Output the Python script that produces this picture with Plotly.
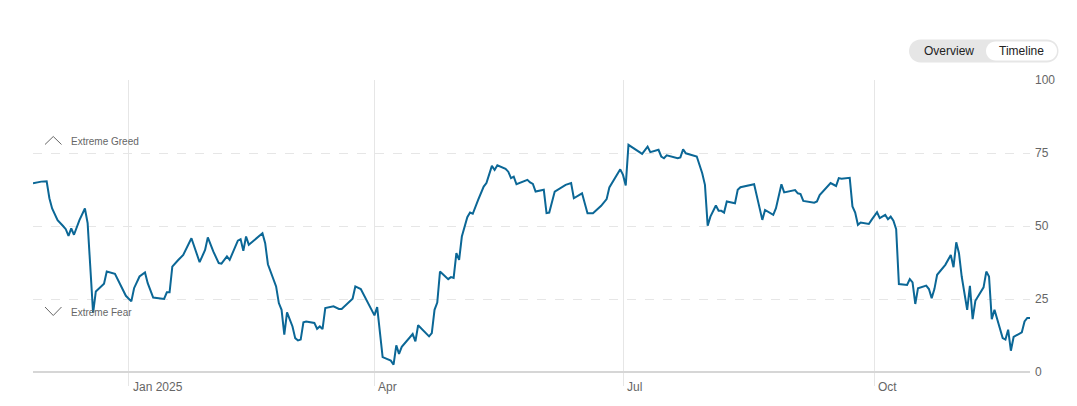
import plotly.graph_objects as go

#%% data
dates = [
    '2024-11-27', '2024-11-30', '2024-12-02', '2024-12-03', '2024-12-04', '2024-12-06',
    '2024-12-08', '2024-12-09', '2024-12-10', '2024-12-11', '2024-12-12', '2024-12-14',
    '2024-12-16', '2024-12-17', '2024-12-19', '2024-12-20', '2024-12-23', '2024-12-24',
    '2024-12-27', '2024-12-29', '2024-12-31', '2025-01-02', '2025-01-03', '2025-01-05',
    '2025-01-07', '2025-01-08', '2025-01-10', '2025-01-14', '2025-01-15', '2025-01-16',
    '2025-01-17', '2025-01-19', '2025-01-21', '2025-01-24', '2025-01-27', '2025-01-29',
    '2025-01-30', '2025-02-01', '2025-02-03', '2025-02-04', '2025-02-06', '2025-02-07',
    '2025-02-10', '2025-02-11', '2025-02-12', '2025-02-13', '2025-02-14', '2025-02-19',
    '2025-02-20', '2025-02-21', '2025-02-24', '2025-02-25', '2025-02-26', '2025-02-27',
    '2025-02-28', '2025-03-02', '2025-03-03', '2025-03-04', '2025-03-05', '2025-03-06',
    '2025-03-07', '2025-03-10', '2025-03-11', '2025-03-12', '2025-03-13', '2025-03-14',
    '2025-03-17', '2025-03-19', '2025-03-20', '2025-03-24', '2025-03-25', '2025-03-27',
    '2025-04-01', '2025-04-02', '2025-04-04', '2025-04-07', '2025-04-08', '2025-04-09',
    '2025-04-10', '2025-04-11', '2025-04-15', '2025-04-16', '2025-04-17', '2025-04-21',
    '2025-04-22', '2025-04-23', '2025-04-24', '2025-04-25', '2025-04-28', '2025-04-29',
    '2025-04-30', '2025-05-01', '2025-05-02', '2025-05-03', '2025-05-05', '2025-05-06',
    '2025-05-07', '2025-05-09', '2025-05-11', '2025-05-12', '2025-05-14', '2025-05-15',
    '2025-05-16', '2025-05-19', '2025-05-20', '2025-05-21', '2025-05-22', '2025-05-23',
    '2025-05-27', '2025-05-28', '2025-05-29', '2025-05-30', '2025-06-02', '2025-06-03',
    '2025-06-04', '2025-06-06', '2025-06-10', '2025-06-12', '2025-06-13', '2025-06-16',
    '2025-06-18', '2025-06-20', '2025-06-23', '2025-06-25', '2025-06-26', '2025-06-30',
    '2025-07-01', '2025-07-02', '2025-07-03', '2025-07-08', '2025-07-10', '2025-07-11',
    '2025-07-14', '2025-07-15', '2025-07-16', '2025-07-17', '2025-07-21', '2025-07-22',
    '2025-07-23', '2025-07-24', '2025-07-28', '2025-07-30', '2025-07-31', '2025-08-01',
    '2025-08-02', '2025-08-04', '2025-08-05', '2025-08-06', '2025-08-07', '2025-08-08',
    '2025-08-11', '2025-08-12', '2025-08-13', '2025-08-18', '2025-08-21', '2025-08-22',
    '2025-08-25', '2025-08-26', '2025-08-28', '2025-08-29', '2025-09-02', '2025-09-03',
    '2025-09-04', '2025-09-05', '2025-09-09', '2025-09-10', '2025-09-11', '2025-09-15',
    '2025-09-16', '2025-09-17', '2025-09-18', '2025-09-19', '2025-09-22', '2025-09-23',
    '2025-09-24', '2025-09-25', '2025-09-26', '2025-09-29', '2025-09-30', '2025-10-02',
    '2025-10-03', '2025-10-05', '2025-10-06', '2025-10-07', '2025-10-08', '2025-10-09',
    '2025-10-10', '2025-10-13', '2025-10-14', '2025-10-15', '2025-10-16', '2025-10-17',
    '2025-10-20', '2025-10-21', '2025-10-22', '2025-10-23', '2025-10-24', '2025-10-27',
    '2025-10-29', '2025-10-30', '2025-10-31', '2025-11-01', '2025-11-02', '2025-11-04',
    '2025-11-05', '2025-11-06', '2025-11-07', '2025-11-10', '2025-11-11', '2025-11-12',
    '2025-11-13', '2025-11-14', '2025-11-17', '2025-11-18', '2025-11-19', '2025-11-20',
    '2025-11-21', '2025-11-24', '2025-11-25', '2025-11-26', '2025-11-27',
]
index_values = [
    64.6, 65.2, 65.3, 59.5, 56.0, 52.0,
    50.0, 48.9, 46.6, 49.2, 47.0, 52.0,
    56.0, 51.0, 20.2, 27.6, 30.2, 34.4,
    33.6, 29.9, 26.1, 24.2, 28.7, 32.7,
    34.1, 30.4, 25.5, 25.0, 27.3, 27.3,
    36.1, 38.2, 40.1, 45.8, 37.6, 41.8,
    46.1, 41.3, 37.3, 37.1, 39.6, 38.4,
    45.0, 45.5, 41.5, 46.4, 43.6, 47.5,
    44.1, 36.9, 29.3, 23.6, 21.3, 12.8,
    20.4, 15.6, 11.6, 10.8, 11.1, 17.0,
    17.3, 16.8, 14.8, 15.6, 14.7, 21.9,
    22.5, 21.6, 21.6, 25.1, 29.3, 28.4,
    19.4, 22.2, 5.1, 3.9, 2.5, 9.1,
    6.2, 8.6, 13.0, 10.5, 16.0, 12.2,
    13.3, 21.3, 23.8, 34.4, 31.8, 32.5,
    32.2, 40.7, 38.4, 46.4, 53.0, 54.6,
    54.2, 59.0, 63.5, 64.7, 70.6, 69.2,
    70.8, 69.6, 68.6, 66.4, 66.9, 64.3,
    65.8, 64.9, 64.4, 61.8, 62.4, 54.4,
    54.6, 61.8, 64.1, 64.7, 59.5, 61.2,
    54.4, 54.4, 56.9, 59.2, 63.2, 69.4,
    67.5, 63.9, 77.8, 74.7, 77.2, 75.3,
    76.1, 73.8, 73.2, 74.2, 73.2, 73.5,
    76.3, 74.9, 73.8, 68.1, 64.1, 50.1,
    53.2, 57.0, 55.2, 55.2, 54.6, 58.4,
    57.8, 62.4, 63.3, 64.3, 52.1, 55.5,
    53.8, 56.1, 64.3, 61.5, 62.3, 61.2,
    60.9, 58.6, 58.0, 58.4, 60.6, 64.7,
    64.3, 63.7, 66.4, 66.2, 66.5, 56.7,
    54.6, 50.4, 51.2, 50.7, 52.1, 54.7,
    52.7, 53.8, 52.3, 53.2, 51.8, 48.9,
    30.1, 29.8, 31.8, 30.7, 23.3, 28.7,
    29.6, 28.4, 25.3, 28.4, 33.3, 36.7,
    40.1, 35.9, 44.4, 40.7, 32.7, 21.3,
    29.5, 18.1, 24.4, 29.0, 34.4, 32.7,
    18.1, 21.3, 11.6, 11.1, 14.5, 7.3,
    12.0, 13.6, 17.3, 18.5, 18.5,
]
x_tick_dates = ['2025-01-01', '2025-04-01', '2025-07-01', '2025-10-01']
x_tick_labels = ['Jan 2025', 'Apr', 'Jul', 'Oct']
y_ticks = [0, 25, 50, 75, 100]
zone_labels = ['Extreme Greed', 'Extreme Fear']
zone_levels = [79, 20.5]
toggle_labels = ['Overview', 'Timeline']

#%% layout constants (screen pixels of the plot area; page body has an 8px margin)
PAGE = 8
PLOT_L, PLOT_T, PLOT_R, PLOT_B = 33, 80, 1030, 372.5
W, H = 1077 - PAGE, 406 - PAGE
ML, MT = PLOT_L - PAGE, PLOT_T - PAGE
MR, MB = W - (PLOT_R - PAGE), H - (PLOT_B - PAGE)
PW, PH = PLOT_R - PLOT_L, PLOT_B - PLOT_T
FONT = 'Liberation Sans, Arial, sans-serif'
GRID = '#e6e6e6'
LINE = '#0b6796'
K = 0.5523


def rel(px, py):
    # screen pixel -> pixel offset from the top-left corner of the plot area (y up)
    return px - PLOT_L, PLOT_T - py


def pill_path(x0, y0, x1, y1):
    (a, t), (b, bt) = rel(x0, y0), rel(x1, y1)
    r = (t - bt) / 2
    cy = (t + bt) / 2
    k = K * r
    return (
        f'M {a + r},{t} L {b - r},{t} '
        f'C {b - r + k},{t} {b},{cy + k} {b},{cy} '
        f'C {b},{cy - k} {b - r + k},{bt} {b - r},{bt} '
        f'L {a + r},{bt} '
        f'C {a + r - k},{bt} {a},{cy - k} {a},{cy} '
        f'C {a},{cy + k} {a + r - k},{t} {a + r},{t} Z'
    )


def chevron_path(x0, y_tip, x1, y_base):
    (a, yt), (b, yb) = rel(x0, y_tip), rel(x1, y_base)
    return f'M {a},{yb} L {(a + b) / 2},{yt} L {b},{yb}'


def pixel_shape(path, **kw):
    return dict(
        type='path', path=path, xref='paper', yref='paper',
        xsizemode='pixel', ysizemode='pixel', xanchor=0, yanchor=1, **kw
    )


#%% figure
fig = go.Figure()
fig.add_trace(go.Scatter(
    x=dates,
    y=index_values,
    mode='lines',
    line=dict(color=LINE, width=2),
    hoverinfo='skip',
    showlegend=False,
))

shapes = [
    pixel_shape(pill_path(909, 39.5, 1058.5, 62.5), fillcolor='#e6e6e6', line=dict(width=0), layer='above'),
    pixel_shape(pill_path(986, 41.5, 1057, 60.5), fillcolor='#ffffff', line=dict(width=0), layer='above'),
    pixel_shape(chevron_path(45, 136.5, 61.5, 144.5), line=dict(color='#666666', width=1)),
    pixel_shape(chevron_path(45, 315.5, 61.5, 307), line=dict(color='#666666', width=1)),
]

annotations = []
for d, lab in zip(x_tick_dates, x_tick_labels):
    annotations.append(dict(
        x=d, y=0, xref='x', yref='paper', text=lab, showarrow=False,
        xanchor='left', yanchor='middle', xshift=2, yshift=-14.5,
        font=dict(family=FONT, size=12, color='#666666'),
    ))
for lab, lvl in zip(zone_labels, zone_levels):
    annotations.append(dict(
        x=(69 - PLOT_L) / PW, y=lvl, xref='paper', yref='y', text=lab,
        showarrow=False, xanchor='left', yanchor='middle',
        font=dict(family=FONT, size=10, color='#666666'),
    ))
for lab, cx in zip(toggle_labels, [948.5, 1021.5]):
    annotations.append(dict(
        x=(cx - PLOT_L) / PW, y=(PLOT_T - 51) / PH + 1,
        xref='paper', yref='paper', text=lab, showarrow=False,
        xanchor='center', yanchor='middle',
        font=dict(family=FONT, size=12, color='#222222'),
    ))

fig.update_layout(
    width=W,
    height=H,
    margin=dict(l=ML, r=MR, t=MT, b=MB, pad=0),
    paper_bgcolor='white',
    plot_bgcolor='white',
    font=dict(family=FONT, size=12, color='#666666'),
    shapes=shapes,
    annotations=annotations,
    hovermode=False,
)
fig.update_xaxes(
    range=['2024-11-27', '2025-11-27'],
    tickvals=x_tick_dates,
    showticklabels=False,
    showgrid=True,
    gridcolor=GRID,
    gridwidth=1,
    ticks='outside',
    ticklen=13,
    tickcolor=GRID,
    zeroline=False,
    showline=False,
    fixedrange=True,
)
fig.update_yaxes(
    range=[0, 100],
    side='right',
    tickvals=y_ticks,
    showgrid=True,
    gridcolor=GRID,
    griddash='dash',
    gridwidth=1,
    zeroline=True,
    zerolinecolor='#d6d6d6',
    zerolinewidth=2,
    ticks='',
    ticklabelstandoff=4,
    tickfont=dict(family=FONT, size=12, color='#666666'),
    showline=False,
    fixedrange=True,
)

fig.write_html('out.html', config={'displayModeBar': False})
